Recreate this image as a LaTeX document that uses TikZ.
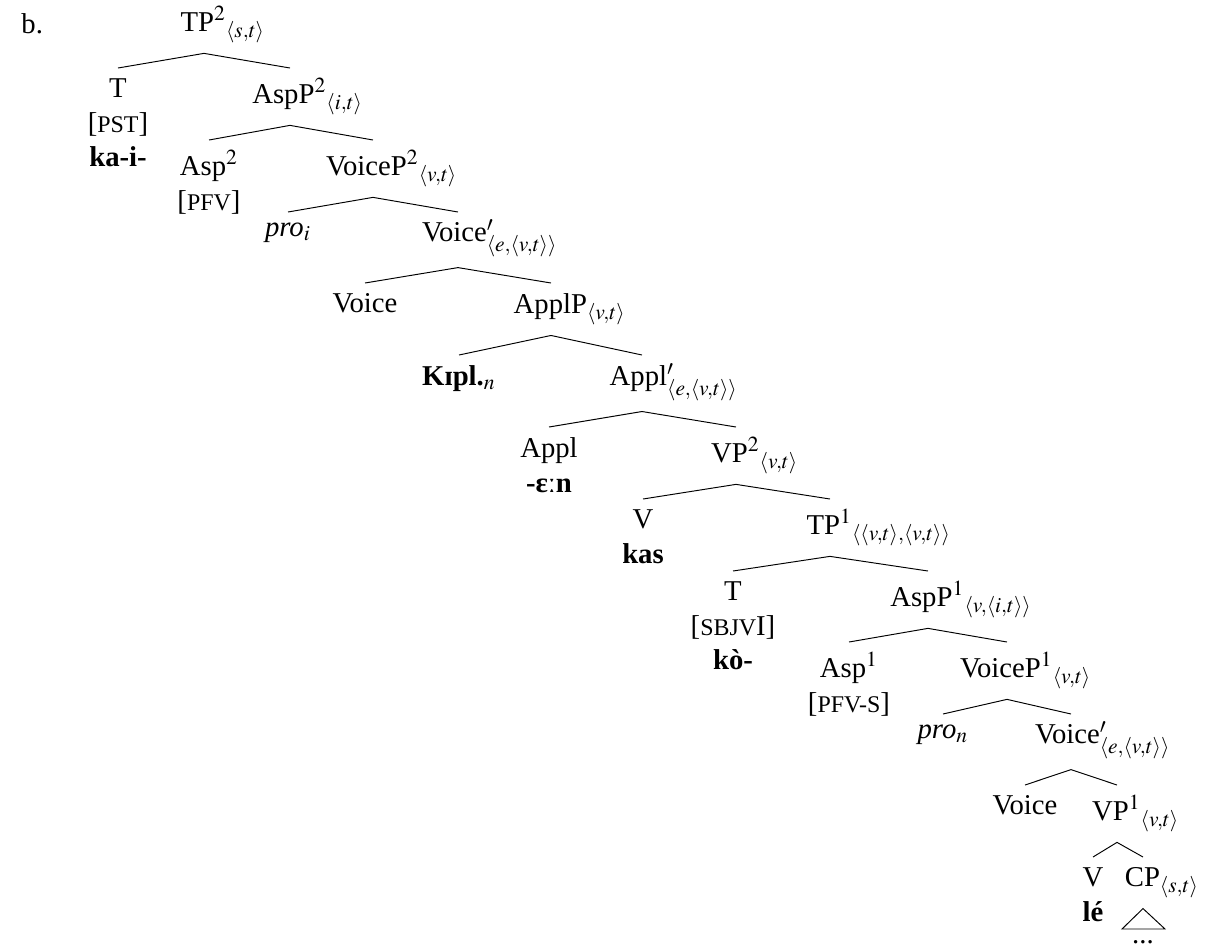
\documentclass[tikz,border=0pt]{standalone}
\usepackage{amsmath}
\usepackage{mathtools}
\usepackage{mathptmx}
\usepackage{fontspec}
\setmainfont{Liberation Serif}

\newcommand{\ftr}[1]{{\fontsize{10}{12}\selectfont #1}}
\newcommand{\sbt}[1]{{}_{\mathrlap{#1}}}
\newcommand{\brsub}[1]{^{\smash{\prime}}_{\mathrlap{#1}}}

\begin{document}
\begin{tikzpicture}[x=0.418pt,y=-0.418pt,font=\fontsize{12}{14.5}\selectfont,
 cat/.style={anchor=north,align=center,inner xsep=1pt,inner ysep=4.2pt}]
%\draw[help lines] (0,0) grid[step=100] (1213,947);
\useasboundingbox (0,0) rectangle (1213,947);

 \node[anchor=base west] (ex) at (13,33) {b.};

 \node[cat] (tp2) at (204,-4) {TP$^2\sbt{\langle s,t\rangle}$};

 \node[cat] (t2) at (118,68) {T\\{[}\ftr{PST}{]}\\\textbf{ka-i-}};
 \node[cat] (asp2p) at (290,68) {AspP$^2\sbt{\langle i,t\rangle}$};

 \node[cat] (asp2) at (209,140) {Asp$^2$\\{[}\ftr{PFV}{]}};
 \node[cat] (voice2p) at (373,140) {VoiceP$^2\sbt{\langle v,t\rangle}$};

 \node[cat] (proi) at (288,212) {\textit{pro}$_i$};
 \node[cat] (voice2bar) at (458,212) {Voice$\brsub{\langle e,\langle v,t\rangle\rangle}$};

 \node[cat] (voice2) at (365,283) {Voice};
 \node[cat] (applp) at (551,283) {ApplP$_{\mathrlap{\langle v,t\rangle}}$};

 \node[cat] (kipl) at (459,355) {\textbf{Kɪpl.}$_n$};
 \node[cat] (applbar) at (642,355) {Appl$\brsub{\langle e,\langle v,t\rangle\rangle}$};

 \node[cat] (appl) at (549,427) {Appl\\\textbf{-ɛːn}};
 \node[cat] (vp2) at (736,427) {VP$^2\sbt{\langle v,t\rangle}$};

 \node[cat] (v2) at (643,499) {V\\\textbf{kas}};
 \node[cat] (tp1) at (830,499) {TP$^1\sbt{\langle\langle v,t\rangle,\langle v,t\rangle\rangle}$};

 \node[cat] (t1) at (733,571) {T\\{[}\ftr{SBJV}I{]}\\\textbf{kò-}};
 \node[cat] (asp1p) at (928,571) {AspP$^1\sbt{\langle v,\langle i,t\rangle\rangle}$};

 \node[cat] (asp1) at (849,642) {Asp$^1$\\{[}\ftr{PFV-S}{]}};
 \node[cat] (voice1p) at (1007,642) {VoiceP$^1\sbt{\langle v,t\rangle}$};

 \node[cat] (pron) at (943,714) {\textit{pro}$_n$};
 \node[cat] (voice1bar) at (1071,714) {Voice$\brsub{\langle e,\langle v,t\rangle\rangle}$};

 \node[cat] (voice1) at (1025,785) {Voice};
 \node[cat] (vp1) at (1117,785) {VP$^1\sbt{\langle v,t\rangle}$};

 \node[cat] (v1) at (1093,857) {V\\\textbf{lé}};
 \node[cat] (cp) at (1143,857) {CP$_{\mathrlap{\langle s,t\rangle}}$};

 \coordinate (roofl) at (1122,929);
 \coordinate (roofr) at (1165,929);
 \node[anchor=base] (dots) at (1143,943) {...};

 \draw (tp2.south) -- (t2.north);
 \draw (tp2.south) -- (asp2p.north);
 \draw (asp2p.south) -- (asp2.north);
 \draw (asp2p.south) -- (voice2p.north);
 \draw (voice2p.south) -- (proi.north);
 \draw (voice2p.south) -- (voice2bar.north);
 \draw (voice2bar.south) -- (voice2.north);
 \draw (voice2bar.south) -- (applp.north);
 \draw (applp.south) -- (kipl.north);
 \draw (applp.south) -- (applbar.north);
 \draw (applbar.south) -- (appl.north);
 \draw (applbar.south) -- (vp2.north);
 \draw (vp2.south) -- (v2.north);
 \draw (vp2.south) -- (tp1.north);
 \draw (tp1.south) -- (t1.north);
 \draw (tp1.south) -- (asp1p.north);
 \draw (asp1p.south) -- (asp1.north);
 \draw (asp1p.south) -- (voice1p.north);
 \draw (voice1p.south) -- (pron.north);
 \draw (voice1p.south) -- (voice1bar.north);
 \draw (voice1bar.south) -- (voice1.north);
 \draw (voice1bar.south) -- (vp1.north);
 \draw (vp1.south) -- (v1.north);
 \draw (vp1.south) -- (cp.north);
 \draw (cp.south) -- (roofl) -- (roofr) -- cycle;

\end{tikzpicture}
\end{document}
